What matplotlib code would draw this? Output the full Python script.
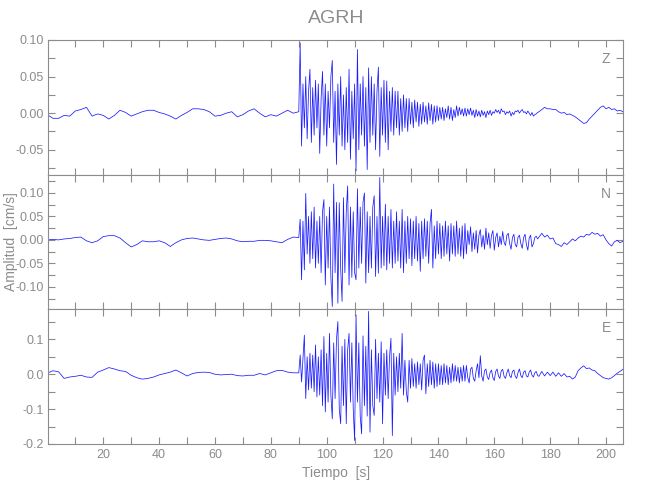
import numpy as np
import matplotlib
matplotlib.use('Agg')
import matplotlib.pyplot as plt
from matplotlib.ticker import MultipleLocator, FormatStrFormatter

plt.rcParams['font.family'] = ['Liberation Sans', 'DejaVu Sans']

# sample times: quiet part every 2 s, strong motion every 0.5 s, late coda every 1 s
t_pre = np.arange(0, 90, 2)
t_evt = np.arange(90, 176, 0.5)
t_coda = np.arange(176, 207, 1)

z_pre = [-0.002, -0.007, -0.007, -0.003, -0.004, 0.003, 0.005, 0.008, -0.004, -0.001,
         -0.003, -0.008, -0.003, 0.004, 0.001, -0.004, -0.001, 0.002, 0.004, 0.004,
         0.001, -0.001, -0.004, -0.008, -0.003, 0.001, 0.006, 0.006, 0.005, 0.002,
         -0.004, -0.003, 0.000, 0.002, -0.005, -0.002, 0.003, 0.006, 0.000, -0.005,
         -0.002, -0.004, 0.000, 0.004, 0.000]
z_evt = [0.002, 0.096, -0.045, 0.04, -0.02, 0.05, -0.035, 0.03, 0.06, -0.04,
         0.035, -0.03, 0.045, -0.02, 0.04, -0.055, 0.02, 0.057, -0.03, 0.04,
         -0.045, 0.03, -0.02, 0.05, 0.072, -0.04, 0.03, -0.07, 0.04, -0.03,
         0.05, -0.045, 0.025, -0.05, 0.035, -0.04, 0.06, -0.063, 0.03, -0.035,
         0.04, -0.079, 0.087, -0.05, 0.04, -0.03, 0.05, -0.045, 0.035, -0.077,
         0.062, -0.04, 0.05, -0.03, 0.04, -0.05, 0.03, 0.063, -0.059, 0.035,
         -0.03, 0.045, -0.04, 0.044, -0.05, 0.03, -0.025, 0.035, -0.03, 0.03,
         -0.02, 0.03, -0.03, 0.02, -0.025, 0.025, -0.02, 0.02, -0.025, 0.02,
         -0.015, 0.015, -0.02, 0.018, -0.012, 0.015, -0.018, 0.012, -0.015, 0.015,
         -0.012, 0.01, -0.015, 0.014, -0.01, 0.012, -0.015, 0.01, -0.012, 0.01,
         -0.01, 0.008, -0.008, 0.008, -0.01, 0.006, -0.006, 0.01, -0.008, 0.008,
         -0.01, 0.005, -0.006, 0.01, -0.004, 0.008, -0.002, 0.006, -0.004, 0.007,
         -0.004, 0.006, -0.002, 0.007, -0.003, 0.004, -0.006, 0.005, -0.004, 0.003,
         -0.005, 0.004, -0.003, 0.002, -0.006, 0.003, -0.002, 0.004, -0.003, 0.002,
         0.0, 0.005, 0.001, 0.004, -0.001, 0.006, 0.002, 0.003, -0.002, 0.002,
         0.0, 0.003, -0.004, 0.001, -0.002, 0.003, 0.002, 0.004, 0.0, 0.003,
         0.005, 0.001, 0.002, -0.001, 0.003, 0.0, -0.003, 0.001, -0.004, -0.002,
         -0.001, 0.001]
z_coda = [0.002, 0.005, 0.008, 0.006,
          0.006, 0.005, 0.005, 0.002, 0.0, 0.001, -0.002, -0.001, -0.003, -0.005,
          -0.008, -0.011, -0.014, -0.013, -0.008, -0.004, 0.0, 0.004, 0.008, 0.01,
          0.006, 0.008, 0.005, 0.006, 0.003, 0.004, 0.002]

n_pre = [0.000, 0.001, 0.000, 0.002, 0.003, 0.005, 0.006, -0.002, -0.006, -0.002,
         0.007, 0.009, 0.009, 0.004, -0.006, -0.015, -0.010, -0.002, -0.004, -0.004,
         -0.002, -0.006, -0.014, -0.006, 0.000, 0.003, 0.004, 0.002, 0.000, -0.001,
         0.001, 0.003, 0.004, 0.002, -0.002, -0.004, -0.003, -0.003, -0.001, -0.001,
         -0.002, -0.004, -0.006, 0.001, 0.006]
n_evt = [0.005, 0.044, -0.085, 0.04, -0.064, 0.099, -0.03, 0.05, -0.05, 0.06,
         -0.04, 0.07, -0.06, 0.04, -0.05, 0.05, -0.07, 0.06, 0.086, -0.096,
         0.05, -0.06, 0.07, -0.08, -0.142, 0.119, -0.07, 0.08, -0.135, 0.079,
         -0.06, -0.131, 0.09, -0.07, 0.06, 0.115, -0.096, 0.07, -0.08, 0.06,
         -0.07, -0.085, 0.109, -0.06, 0.07, -0.05, 0.08, 0.1, -0.092, 0.06,
         -0.07, 0.05, -0.06, 0.07, 0.094, -0.078, 0.05, -0.071, 0.133, -0.06,
         0.05, -0.055, 0.076, -0.064, 0.05, -0.05, 0.065, -0.06, 0.04, -0.05,
         0.06, -0.045, 0.04, -0.06, 0.065, -0.07, 0.04, -0.05, 0.05, -0.04,
         0.045, -0.055, 0.04, -0.04, 0.05, -0.045, 0.035, -0.067, 0.04, -0.04,
         0.045, -0.035, 0.04, -0.05, 0.035, 0.065, -0.06, 0.03, -0.04, 0.04,
         -0.03, 0.035, -0.04, 0.03, -0.035, 0.04, -0.03, 0.03, -0.045, 0.035,
         -0.03, 0.03, -0.035, 0.04, -0.03, 0.025, -0.035, 0.03, -0.04, 0.035,
         -0.03, 0.02, -0.01, 0.028, -0.025, 0.015, -0.02, 0.02, -0.028, 0.01,
         0.022, -0.015, 0.01, -0.02, 0.025, -0.01, 0.015, -0.018, 0.01, 0.02,
         -0.022, 0.005, 0.015, -0.015, 0.008, -0.01, 0.018, -0.005, -0.012, 0.01,
         0.014, -0.008, -0.02, 0.005, 0.012, -0.01, -0.015, 0.006, 0.01, -0.008,
         -0.018, 0.005, 0.012, -0.01, -0.022, 0.004, 0.01, -0.015, -0.008, 0.005,
         0.008, 0.002]
n_coda = [0.006, 0.014, 0.006, 0.01,
          0.002, 0.004, -0.008, -0.01, -0.014, -0.006, -0.01, -0.004, 0.002, -0.002,
          0.004, 0.008, 0.006, 0.012, 0.01, 0.016, 0.012, 0.014, 0.008, 0.011,
          0.0, -0.008, -0.013, -0.004, -0.001, -0.006, -0.003]

e_pre = [0.003, 0.010, 0.007, -0.012, -0.008, -0.006, -0.003, -0.008, -0.009, 0.006,
         0.012, 0.019, 0.015, 0.010, 0.008, -0.003, -0.010, -0.014, -0.012, -0.008,
         -0.002, 0.002, 0.006, 0.012, 0.004, -0.005, 0.002, 0.005, 0.006, 0.005,
         0.000, -0.002, -0.001, 0.000, -0.004, -0.005, -0.003, -0.003, 0.002, -0.002,
         0.004, 0.010, 0.011, 0.006, 0.004]
e_evt = [0.004, 0.055, -0.022, 0.045, 0.112, -0.07, 0.05, -0.045, 0.06, -0.04,
         0.055, -0.05, 0.084, -0.065, 0.05, -0.06, 0.07, -0.09, 0.108, -0.108,
         0.06, -0.08, 0.117, -0.06, -0.128, 0.09, -0.07, 0.1, 0.151, -0.1,
         -0.142, 0.08, -0.09, 0.1, -0.142, 0.07, 0.117, -0.08, 0.09, -0.1,
         -0.19, 0.17, -0.08, 0.09, -0.12, -0.171, 0.11, -0.09, 0.08, -0.12,
         0.18, -0.166, 0.07, -0.09, -0.118, 0.1, -0.07, 0.06, -0.08, 0.093,
         -0.142, 0.06, -0.06, 0.07, -0.07, 0.05, 0.103, -0.176, 0.06, -0.06,
         0.05, -0.05, 0.06, -0.04, 0.117, -0.06, 0.04, -0.05, -0.08, 0.04,
         -0.04, 0.045, -0.035, 0.03, -0.04, 0.035, -0.03, 0.03, -0.045, 0.04,
         0.055, -0.056, 0.03, -0.035, 0.04, -0.03, 0.035, -0.04, 0.03, -0.035,
         0.03, -0.03, 0.025, -0.03, 0.03, -0.025, 0.025, -0.03, 0.02, -0.025,
         0.03, -0.02, 0.025, -0.02, 0.02, -0.025, 0.02, -0.02, 0.025, -0.02,
         0.025, -0.01, -0.025, 0.015, 0.02, -0.012, -0.02, 0.01, 0.03, -0.01,
         0.053, -0.005, -0.02, 0.01, 0.015, -0.008, -0.015, 0.005, 0.012, -0.01,
         -0.018, 0.008, 0.015, -0.005, -0.012, 0.01, 0.014, -0.006, -0.012, 0.004,
         0.015, -0.004, -0.01, 0.008, 0.012, -0.006, -0.012, 0.005, 0.015, -0.004,
         -0.01, 0.006, 0.01, -0.005, -0.008, 0.006, 0.012, -0.003, -0.008, 0.004,
         0.008, -0.004]
e_coda = [-0.006, 0.008, -0.005, 0.006,
          -0.004, 0.006, -0.006, 0.004, -0.006, 0.002, -0.008, -0.006, -0.014, -0.008,
          0.01, 0.018, 0.024, 0.016, 0.018, 0.012, 0.01, 0.002, -0.004, -0.01,
          -0.012, -0.014, -0.01, -0.004, 0.003, 0.008, 0.014]

components = ['Z', 'N', 'E']
ylims = [(-0.084, 0.10), (-0.148, 0.139), (-0.2, 0.186)]
major = [0.05, 0.05, 0.1]
fmts = ['%.2f', '%.2f', '%.1f']

t = np.concatenate([t_pre, t_evt, t_coda])
traces = [np.concatenate([z_pre, z_evt, z_coda]),
          np.concatenate([n_pre, n_evt, n_coda]),
          np.concatenate([e_pre, e_evt, e_coda])]

grey = '#8c8c8c'

fig, axes = plt.subplots(3, 1, sharex=True, figsize=(6.5, 5), dpi=100)
fig.subplots_adjust(left=0.0746, right=0.959, top=0.92, bottom=0.112, hspace=0)

for ax, y, comp, lim, mj, fmt in zip(axes, traces, components, ylims, major, fmts):
    ax.plot(t, y, color='#1a1aff', lw=0.55)
    ax.set_xlim(0.4, 206.2)
    ax.set_ylim(*lim)
    ax.xaxis.set_major_locator(MultipleLocator(20))
    ax.xaxis.set_minor_locator(MultipleLocator(10))
    ax.yaxis.set_major_locator(MultipleLocator(mj))
    ax.yaxis.set_minor_locator(MultipleLocator(mj / 2))
    ax.yaxis.set_major_formatter(FormatStrFormatter(fmt))
    ax.tick_params(which='both', direction='in', length=5, width=0.8,
                   color=grey, labelcolor=grey, labelsize=9,
                   top=True, right=True)
    for sp in ax.spines.values():
        sp.set_color(grey)
        sp.set_linewidth(0.8)
    ax.text(0.97, 0.86, comp, transform=ax.transAxes, ha='center', va='center',
            color=grey, fontsize=10)

axes[0].set_title('AGRH', color=grey, fontsize=14, pad=12)
fig.text(11 / 650, 0.516, 'Amplitud  [cm/s]', rotation=90, ha='center', va='center',
         color=grey, fontsize=10)
axes[2].set_xlabel('Tiempo  [s]', color=grey, fontsize=10, labelpad=4)

plt.savefig('out.png', dpi=100)
